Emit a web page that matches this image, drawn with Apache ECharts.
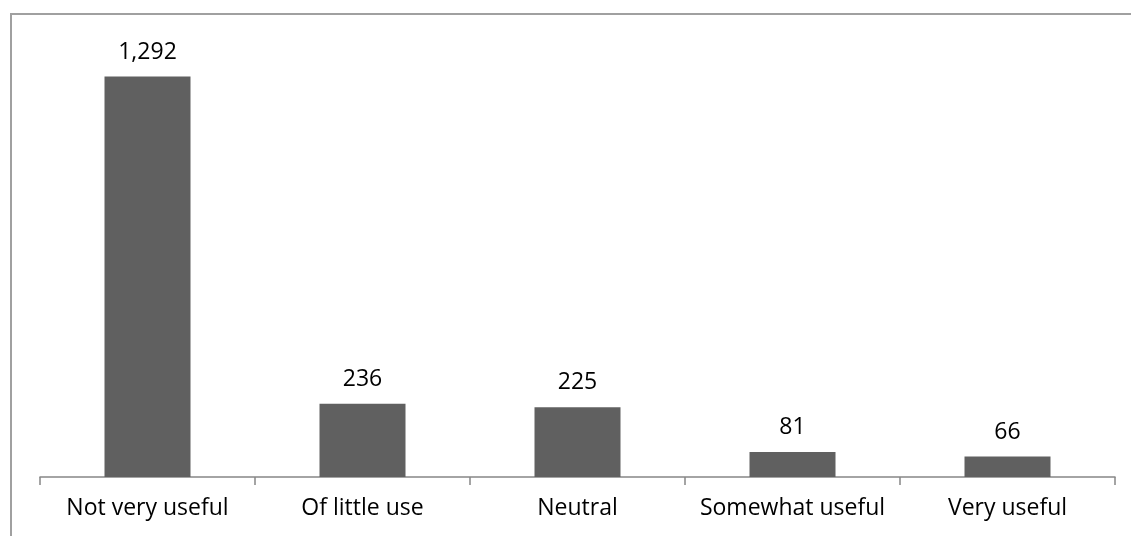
<!DOCTYPE html>
<html>
<head>
<meta charset="utf-8">
<script src="https://cdn.jsdelivr.net/npm/echarts@6/dist/echarts.min.js"></script>
<style>
html,body{margin:0;padding:0;background:#fff;}
#chart{width:1131px;height:536px;}
</style>
</head>
<body>
<div id="chart"></div>
<script>
const categories = ["Not very useful", "Of little use", "Neutral", "Somewhat useful", "Very useful"];
const values = [1292, 236, 225, 81, 66];

const chart = echarts.init(document.getElementById('chart'), null, {renderer: 'canvas'});
const fontFamily = '"Open Sans", "Liberation Sans", sans-serif';
chart.setOption({
  animation: false,
  backgroundColor: '#ffffff',
  graphic: [{
    type: 'rect',
    shape: {x: 11, y: 14, width: 1300, height: 700},
    style: {fill: 'none', stroke: '#a0a0a0', lineWidth: 2},
    silent: true
  }],
  grid: {left: 40, right: 16, top: 43, bottom: 59, containLabel: false},
  xAxis: {
    type: 'category',
    data: categories,
    boundaryGap: true,
    axisLine: {lineStyle: {color: '#868686', width: 1.5}},
    axisTick: {show: true, length: 8, lineStyle: {color: '#868686', width: 1.5}, alignWithLabel: false},
    axisLabel: {color: '#000', fontSize: 23, fontFamily: fontFamily, margin: 20, interval: 0}
  },
  yAxis: {
    type: 'value',
    min: 0,
    max: 1400,
    show: false,
    splitLine: {show: false}
  },
  series: [{
    type: 'bar',
    data: values,
    barWidth: '40%',
    itemStyle: {color: '#606060'},
    label: {
      show: true,
      position: 'top',
      distance: 13,
      color: '#000',
      fontSize: 23,
      fontFamily: fontFamily,
      formatter: p => p.value.toLocaleString('en-US')
    }
  }]
});
</script>
</body>
</html>
